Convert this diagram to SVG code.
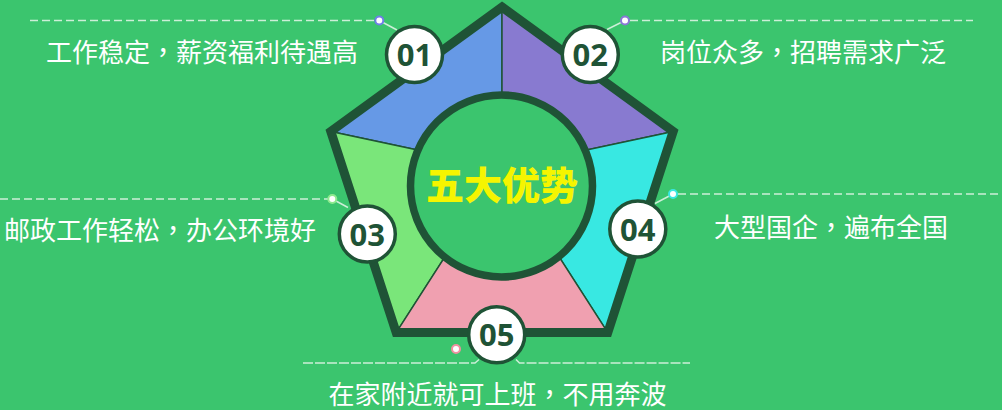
<svg xmlns="http://www.w3.org/2000/svg" width="1002" height="410" viewBox="0 0 1002 410">
<style>
.lbl{font-family:"Noto Sans CJK SC","Noto Sans",sans-serif;font-size:26px;fill:#ffffff;text-anchor:middle}
.cm{font-family:"Noto Sans CJK TC","Noto Sans CJK SC",sans-serif}
.num{font-family:"Open Sans","DejaVu Sans",sans-serif;font-size:31px;font-weight:700;fill:#1f5336;text-anchor:middle}
.badge{fill:#ffffff;stroke:#1f5336;stroke-width:3.5}
.dash{fill:none;stroke:#e6f6ea;stroke-opacity:0.85;stroke-width:1.5;stroke-dasharray:8 4}
.dash2{fill:none;stroke:#e6f6ea;stroke-opacity:0.85;stroke-width:1.5;stroke-dasharray:10 2}
.lead{fill:none;stroke:#e6f6ea;stroke-opacity:0.85;stroke-width:1.5}
.dot{fill:#ffffff;stroke-width:2}
.seg{stroke:#1f5336;stroke-width:1.5;stroke-linejoin:round}
</style>
<rect width="1002" height="410" fill="#3bc56e"/>
<g id="pentagon">
<polygon class="seg" fill="#6699e6" points="502,7 330.8,131.4 502,168"/>
<polygon class="seg" fill="#887ad0" points="502,7 673.2,131.4 502,168"/>
<polygon class="seg" fill="#7ae67a" points="330.8,131.4 396.2,332.6 502,168"/>
<polygon class="seg" fill="#38e8e2" points="673.2,131.4 607.8,332.6 502,168"/>
<polygon class="seg" fill="#f0a0b0" points="396.2,332.6 607.8,332.6 502,168"/>
<polygon fill="none" stroke="#1f5336" stroke-width="9" stroke-linejoin="miter" points="502,7 673.2,131.4 607.8,332.6 396.2,332.6 330.8,131.4"/>
</g>
<g id="center">
<circle cx="501.5" cy="186" r="91" fill="#3bc56e" stroke="#1f5336" stroke-width="7.5"/>
<text x="502" y="199" font-family="'Noto Sans CJK SC','Noto Sans',sans-serif" font-size="38" font-weight="900" fill="#f5f500" text-anchor="middle">五大优势</text>
</g>
<g id="connectors">
<line class="dash" x1="30" y1="20.5" x2="375" y2="20.5"/>
<line class="lead" x1="379.3" y1="20.5" x2="397" y2="30"/>
<circle class="dot" cx="379.3" cy="20.5" r="4" stroke="#6f7ee8"/>
<line class="dash" x1="630" y1="20.5" x2="973" y2="20.5"/>
<line class="lead" x1="625" y1="20.5" x2="607" y2="29.5"/>
<circle class="dot" cx="625" cy="20.5" r="4" stroke="#8a78d6"/>
<line class="dash" x1="0" y1="199" x2="328" y2="199"/>
<line class="lead" x1="332.3" y1="199" x2="348" y2="207.5"/>
<circle class="dot" cx="332.3" cy="199" r="4" stroke="#8eea8e"/>
<line class="dash" x1="678" y1="194" x2="1002" y2="194"/>
<line class="lead" x1="673" y1="194" x2="655" y2="203.5"/>
<circle class="dot" cx="673" cy="194" r="4" stroke="#38e8e2"/>
<polyline class="dash2" points="303,363 475,363 479,359.5"/>
<polyline class="dash2" points="516,359.5 519.5,363 690,363"/>
<circle class="dot" cx="456" cy="349" r="4" stroke="#f090a0"/>
</g>
<g id="node1">
<circle class="badge" cx="414.5" cy="54.5" r="28"/>
<text class="num" x="414.5" y="66">01</text>
<text class="lbl" x="202" y="62">工作稳定<tspan class="cm">，</tspan>薪资福利待遇高</text>
</g>
<g id="node2">
<circle class="badge" cx="590.3" cy="54.5" r="28"/>
<text class="num" x="590.3" y="66">02</text>
<text class="lbl" x="803" y="62">岗位众多<tspan class="cm">，</tspan>招聘需求广泛</text>
</g>
<g id="node3">
<circle class="badge" cx="367.3" cy="234" r="28"/>
<text class="num" x="367.3" y="245.5">03</text>
<text class="lbl" x="160" y="240">邮政工作轻松<tspan class="cm">，</tspan>办公环境好</text>
</g>
<g id="node4">
<circle class="badge" cx="637.8" cy="229" r="28"/>
<text class="num" x="637.8" y="240.5">04</text>
<text class="lbl" x="831" y="237">大型国企<tspan class="cm">，</tspan>遍布全国</text>
</g>
<g id="node5">
<circle class="badge" cx="496.7" cy="334.7" r="28"/>
<text class="num" x="496.7" y="346.2">05</text>
<text class="lbl" x="497.5" y="404">在家附近就可上班<tspan class="cm">，</tspan>不用奔波</text>
</g>
</svg>
